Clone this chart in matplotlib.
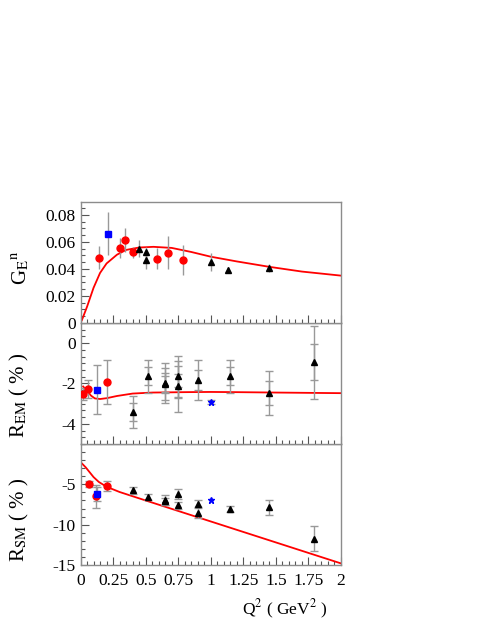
import numpy as np
import matplotlib
matplotlib.use("Agg")
import matplotlib.pyplot as plt
from matplotlib.ticker import MultipleLocator, FixedLocator

plt.rcParams['font.family'] = ['Liberation Serif', 'DejaVu Serif']
plt.rcParams['mathtext.fontset'] = 'stix'

# ---- G_E^n panel ----
ge_red_q = [0.145, 0.30, 0.34, 0.40, 0.59, 0.67, 0.79]
ge_red_v = [0.0481, 0.0553, 0.0612, 0.0523, 0.0476, 0.0519, 0.0467]
ge_red_e = [0.0085, 0.0074, 0.009, 0.004, 0.0075, 0.0123, 0.011]
ge_blue_q = [0.21]
ge_blue_v = [0.0661]
ge_blue_e = [0.016]
ge_tri_q = [0.45, 0.50, 0.50, 1.00, 1.13, 1.45]
ge_tri_v = [0.0548, 0.0523, 0.0464, 0.0452, 0.0393, 0.0407]
ge_tri_e = [0.0063, 0.004, 0.0062, 0.0065, 0.002, 0.003]
ge_curve_q = [0.01, 0.05, 0.10, 0.15, 0.20, 0.28, 0.35, 0.45, 0.56, 0.70, 0.85, 1.0, 1.2, 1.45, 1.7, 2.0]
ge_curve_v = [0.002, 0.012, 0.026, 0.037, 0.044, 0.0505, 0.054, 0.0558, 0.0563, 0.0555, 0.0525,
              0.049, 0.0455, 0.0415, 0.038, 0.035]

# ---- R_EM panel ----
em_red_q = [0.017, 0.06, 0.20]
em_red_v = [-2.50, -2.29, -1.94]
em_red_e = [0.3, 0.45, 1.1]
em_blue_q = [0.13]
em_blue_v = [-2.30]
em_blue_e = [1.2]
em_star_q = [1.0]
em_star_v = [-2.93]
em_star_e = [0.1]
em_tri_q = [0.40, 0.52, 0.65, 0.65, 0.75, 0.75, 0.90, 1.15, 1.45, 1.79]
em_tri_v = [-3.42, -1.65, -1.98, -2.03, -1.65, -2.14, -1.83, -1.65, -2.47, -0.95]
em_tri_stat = [0.45, 0.45, 0.5, 0.4, 0.5, 0.6, 0.5, 0.45, 0.6, 0.9]
em_tri_tot = [0.8, 0.8, 1.0, 0.8, 1.0, 1.25, 1.0, 0.8, 1.1, 1.8]
em_curve_q = [0.02, 0.05, 0.08, 0.11, 0.15, 0.20, 0.28, 0.40, 0.55, 0.8, 1.0, 1.2, 1.5, 2.0]
em_curve_v = [-2.15, -2.35, -2.6, -2.74, -2.77, -2.73, -2.62, -2.5, -2.45, -2.43, -2.42, -2.43,
              -2.45, -2.48]

# ---- R_SM panel ----
sm_red_q = [0.063, 0.12, 0.20]
sm_red_v = [-4.94, -6.5, -5.19]
sm_red_e = [0.4, 1.4, 0.6]
sm_blue_q = [0.13]
sm_blue_v = [-6.17]
sm_blue_e = [0.9]
sm_star_q = [1.0]
sm_star_v = [-7.0]
sm_tri_q = [0.40, 0.52, 0.65, 0.65, 0.75, 0.75, 0.90, 0.90, 1.15, 1.45, 1.79]
sm_tri_v = [-5.76, -6.58, -6.91, -7.1, -6.17, -7.6, -7.4, -8.56, -8.07, -7.86, -11.77]
sm_tri_e = [0.4, 0.4, 0.6, 0.4, 0.6, 0.4, 0.4, 0.6, 0.4, 0.9, 1.55]
sm_curve_q = [0.01, 0.04, 0.07, 0.10, 0.14, 0.20, 0.30, 0.5, 1.0, 1.5, 2.0]
sm_curve_v = [-2.4, -2.9, -3.5, -4.1, -4.7, -5.3, -5.95, -7.0, -9.6, -12.2, -14.8]

xticks = [0, 0.25, 0.5, 0.75, 1, 1.25, 1.5, 1.75, 2]
xticklabels = ['0', '0.25', '0.5', '0.75', '1', '1.25', '1.5', '1.75', '2']

RED = '#ff0000'
BLUE = '#0000ff'
GREY = '#999999'

fig = plt.figure(figsize=(4.91, 6.35), dpi=100)
left, width, h = 0.164, 0.5305, 0.1906
bot0 = 0.1102
ax_sm = fig.add_axes([left, bot0, width, h])
ax_em = fig.add_axes([left, bot0 + h, width, h])
ax_ge = fig.add_axes([left, bot0 + 2 * h, width, h])


def style(ax):
    for s in ax.spines.values():
        s.set_color('#8c8c8c')
        s.set_linewidth(1.0)
    ax.set_xlim(0, 2)
    ax.xaxis.set_major_locator(FixedLocator(xticks))
    ax.xaxis.set_minor_locator(MultipleLocator(0.05))
    ax.tick_params(which='both', direction='in', top=False, right=False,
                   color='#555555', width=0.8, labelsize=12.5)
    ax.tick_params(which='major', length=6)
    ax.tick_params(which='minor', length=3)
    ax.tick_params(axis='x', labelbottom=False)


for ax in (ax_ge, ax_em, ax_sm):
    style(ax)

# top panel
ax_ge.plot(ge_curve_q, ge_curve_v, color=RED, lw=1.3, zorder=2)
ax_ge.errorbar(ge_red_q, ge_red_v, yerr=ge_red_e, fmt='o', color=RED, ms=5,
               ecolor=GREY, elinewidth=1, capsize=0, zorder=3)
ax_ge.errorbar(ge_blue_q, ge_blue_v, yerr=ge_blue_e, fmt='s', color=BLUE, ms=5,
               ecolor=GREY, elinewidth=1, capsize=0, zorder=3)
ax_ge.errorbar(ge_tri_q, ge_tri_v, yerr=ge_tri_e, fmt='^', color='black', ms=4.2,
               ecolor=GREY, elinewidth=1, capsize=0, zorder=3)
ax_ge.set_ylim(0, 0.0895)
ax_ge.yaxis.set_major_locator(FixedLocator([0, 0.02, 0.04, 0.06, 0.08]))
ax_ge.yaxis.set_minor_locator(MultipleLocator(0.005))
ax_ge.set_yticklabels(['0', '0.02', '0.04', '0.06', '0.08'])
ax_ge.set_ylabel(r'G$_{\mathrm{E}}$$^{\mathrm{n}}$', fontsize=15)
ax_ge.yaxis.set_label_coords(-0.19, 0.46)

# middle panel
ax_em.plot(em_curve_q, em_curve_v, color=RED, lw=1.3, zorder=2)
ax_em.errorbar(em_tri_q, em_tri_v, yerr=em_tri_tot, fmt='none', ecolor=GREY,
               elinewidth=1, capsize=3, zorder=3)
ax_em.errorbar(em_tri_q, em_tri_v, yerr=em_tri_stat, fmt='^', color='black', ms=4.2,
               ecolor=GREY, elinewidth=1, capsize=3, zorder=3)
ax_em.errorbar(em_red_q, em_red_v, yerr=em_red_e, fmt='o', color=RED, ms=5,
               ecolor=GREY, elinewidth=1, capsize=3, zorder=3)
ax_em.errorbar(em_blue_q, em_blue_v, yerr=em_blue_e, fmt='s', color=BLUE, ms=5,
               ecolor=GREY, elinewidth=1, capsize=3, zorder=3)
ax_em.errorbar(em_star_q, em_star_v, yerr=em_star_e, fmt='*', color=BLUE, ms=5,
               ecolor=GREY, elinewidth=1, capsize=3, zorder=3)
ax_em.set_ylim(-5, 1)
ax_em.yaxis.set_major_locator(FixedLocator([-4, -2, 0]))
ax_em.yaxis.set_minor_locator(MultipleLocator(1 / 3))
ax_em.set_yticklabels(['-4', '-2', '0'])
ax_em.set_ylabel(r'R$_{\mathrm{EM}}$ ( % )', fontsize=15)
ax_em.yaxis.set_label_coords(-0.19, 0.40)

# bottom panel
ax_sm.plot(sm_curve_q, sm_curve_v, color=RED, lw=1.3, zorder=2)
ax_sm.errorbar(sm_tri_q, sm_tri_v, yerr=sm_tri_e, fmt='^', color='black', ms=4.2,
               ecolor=GREY, elinewidth=1, capsize=3, zorder=3)
ax_sm.errorbar(sm_red_q, sm_red_v, yerr=sm_red_e, fmt='o', color=RED, ms=5,
               ecolor=GREY, elinewidth=1, capsize=3, zorder=3)
ax_sm.errorbar(sm_blue_q, sm_blue_v, yerr=sm_blue_e, fmt='s', color=BLUE, ms=5,
               ecolor=GREY, elinewidth=1, capsize=3, zorder=3)
ax_sm.plot(sm_star_q, sm_star_v, '*', color=BLUE, ms=5, zorder=3)
ax_sm.set_ylim(-15, 0)
ax_sm.yaxis.set_major_locator(FixedLocator([-15, -10, -5]))
ax_sm.yaxis.set_minor_locator(MultipleLocator(1))
ax_sm.set_yticklabels(['-15', '-10', '-5'])
ax_sm.set_ylabel(r'R$_{\mathrm{SM}}$ ( % )', fontsize=15)
ax_sm.yaxis.set_label_coords(-0.19, 0.37)
ax_sm.tick_params(axis='x', labelbottom=True, pad=6)
ax_sm.set_xticklabels(xticklabels)

fig.text(0.666, 0.040, r'Q$^{2}$ ( GeV$^{2}$ )', fontsize=12.5, ha='right', va='center')

fig.savefig('out.png', dpi=100)
